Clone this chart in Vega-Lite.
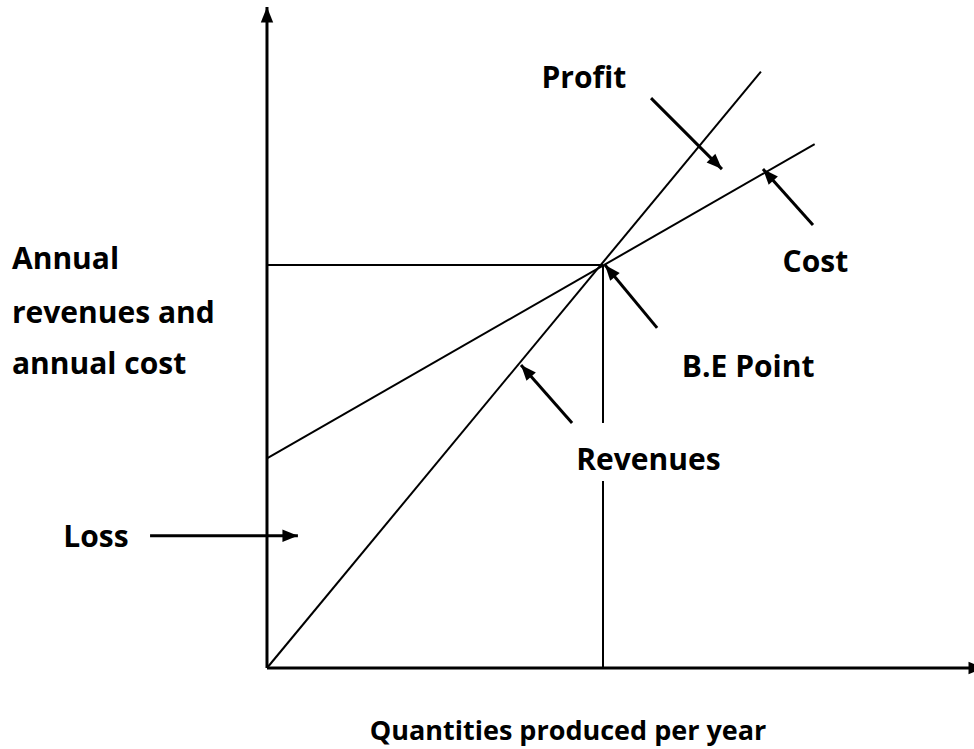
{
  "$schema": "https://vega.github.io/schema/vega-lite/v6.json",
  "width": 974,
  "height": 749,
  "padding": 0,
  "autosize": "none",
  "background": "white",
  "config": {"view": {"stroke": null}},
  "datasets": {
    "lines": [
      {"series": "Revenues", "q": 0, "amount": 0},
      {"series": "Revenues", "q": 147, "amount": 148},
      {"series": "Cost", "q": 0, "amount": 52},
      {"series": "Cost", "q": 163, "amount": 130}
    ],
    "guides": [
      {"name": "BE amount", "q": 0, "amount": 100, "q2": 100, "amount2": 100},
      {"name": "BE quantity low", "q": 100, "amount": 0, "q2": 100, "amount2": 46.4},
      {"name": "BE quantity high", "q": 100, "amount": 60.8, "q2": 100, "amount2": 100}
    ],
    "arrows": [
      {"label": "y-axis", "q": 0, "amount": 0, "q2": 0, "amount2": 164, "angle": 0},
      {"label": "x-axis", "q": 0, "amount": 0, "q2": 213.4, "amount2": 0, "angle": 90},
      {"label": "Profit", "q": 114.3, "amount": 141.4, "q2": 135.4, "amount2": 123.8, "angle": 135},
      {"label": "Cost", "q": 162.5, "amount": 109.9, "q2": 147.6, "amount2": 123.8, "angle": 318},
      {"label": "B.E Point", "q": 116.1, "amount": 84.4, "q2": 100.6, "amount2": 100, "angle": 320},
      {"label": "Revenues", "q": 90.8, "amount": 60.8, "q2": 75.6, "amount2": 75.2, "angle": 319},
      {"label": "Loss", "q": -34.8, "amount": 32.8, "q2": 9.2, "amount2": 32.8, "angle": 90}
    ],
    "labelsCenter": [
      {"text": "Profit", "q": 94.3, "amount": 144.0},
      {"text": "Cost", "q": 163.2, "amount": 98.3},
      {"text": "B.E Point", "q": 143.2, "amount": 72.2},
      {"text": "Revenues", "q": 113.5, "amount": 49.1},
      {"text": "Loss", "q": -50.9, "amount": 30.0}
    ],
    "labelsAxis": [
      {"text": "Quantities produced per year", "q": 89.6, "amount": -17.9}
    ],
    "labelsLeft": [
      {"text": "Annual", "q": -75.9, "amount": 99.0},
      {"text": "revenues and", "q": -75.9, "amount": 85.6},
      {"text": "annual cost", "q": -75.9, "amount": 73.0}
    ]
  },
  "layer": [
    {
      "data": {"name": "lines"},
      "mark": {"type": "line", "color": "black", "strokeWidth": 2},
      "encoding": {
        "x": {"field": "q", "type": "quantitative", "scale": {"domain": [-79.46, 210.42], "nice": false, "zero": false}, "axis": null},
        "y": {"field": "amount", "type": "quantitative", "scale": {"domain": [-20.1, 165.76], "nice": false, "zero": false}, "axis": null},
        "detail": {"field": "series"}
      }
    },
    {
      "data": {"name": "guides"},
      "mark": {"type": "rule", "color": "black", "strokeWidth": 2},
      "encoding": {
        "x": {"field": "q", "type": "quantitative"},
        "y": {"field": "amount", "type": "quantitative"},
        "x2": {"field": "q2"},
        "y2": {"field": "amount2"}
      }
    },
    {
      "data": {"name": "arrows"},
      "mark": {"type": "rule", "color": "black", "strokeWidth": 3},
      "encoding": {
        "x": {"field": "q", "type": "quantitative"},
        "y": {"field": "amount", "type": "quantitative"},
        "x2": {"field": "q2"},
        "y2": {"field": "amount2"}
      }
    },
    {
      "data": {"name": "arrows"},
      "mark": {"type": "point", "shape": "M0,0L0.8,2L-0.8,2Z", "filled": true, "color": "black", "opacity": 1, "size": 240, "strokeWidth": 0},
      "encoding": {
        "x": {"field": "q2", "type": "quantitative"},
        "y": {"field": "amount2", "type": "quantitative"},
        "angle": {"field": "angle", "type": "quantitative", "scale": null}
      }
    },
    {
      "data": {"name": "labelsCenter"},
      "mark": {"type": "text", "font": "Open Sans", "fontWeight": "bold", "fontSize": 30, "align": "center", "baseline": "alphabetic", "color": "black"},
      "encoding": {
        "x": {"field": "q", "type": "quantitative"},
        "y": {"field": "amount", "type": "quantitative"},
        "text": {"field": "text"}
      }
    },
    {
      "data": {"name": "labelsAxis"},
      "mark": {"type": "text", "font": "Open Sans", "fontWeight": "bold", "fontSize": 27, "align": "center", "baseline": "alphabetic", "color": "black"},
      "encoding": {
        "x": {"field": "q", "type": "quantitative"},
        "y": {"field": "amount", "type": "quantitative"},
        "text": {"field": "text"}
      }
    },
    {
      "data": {"name": "labelsLeft"},
      "mark": {"type": "text", "font": "Open Sans", "fontWeight": "bold", "fontSize": 30, "align": "left", "baseline": "alphabetic", "color": "black"},
      "encoding": {
        "x": {"field": "q", "type": "quantitative"},
        "y": {"field": "amount", "type": "quantitative"},
        "text": {"field": "text"}
      }
    }
  ]
}
